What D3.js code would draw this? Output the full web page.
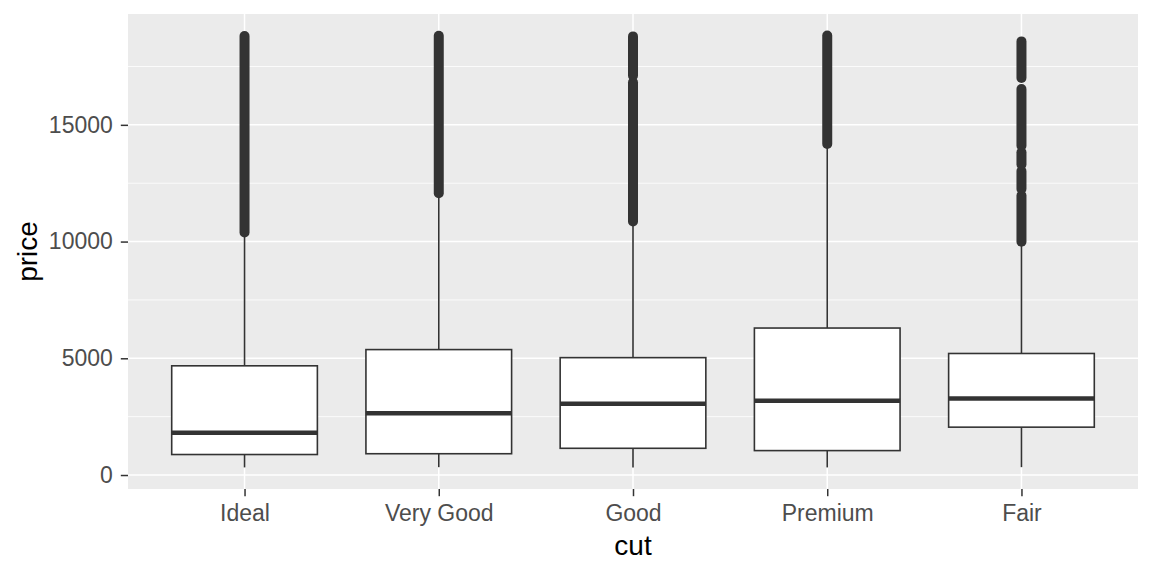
<!DOCTYPE html>
<html>
<head>
<meta charset="utf-8">
<script src="https://cdn.jsdelivr.net/npm/d3@7"></script>
<style>
  body { margin: 0; background: #fff; }
  svg { display: block; font-family: "Liberation Sans", Arial, sans-serif; }
</style>
</head>
<body>
<script>
// diamonds: price by cut, ordered by median
var cuts = ["Ideal", "Very Good", "Good", "Premium", "Fair"];
var q1 = [878, 912, 1145, 1046, 2050];
var medians = [1810, 2648, 3050, 3185, 3282];
var q3 = [4678, 5373, 5028, 6296, 5206];
var whiskerLow = [326, 336, 327, 326, 337];
var whiskerHigh = [10370, 12050, 10840, 14150, 9930];
// outliers sit so close together they read as stacks; each pair is [lowest, highest] of a stack
var outlierStacks = [
    [[10390, 18806]],
    [[12070, 18818]],
    [[10860, 16823], [17103, 18788]],
    [[14180, 18823]],
    [[9990, 11970], [12250, 13024], [13304, 13825], [14105, 16530], [17010, 18574]]
];
var yTicks = [0, 5000, 10000, 15000];
var yMinor = [2500, 7500, 12500, 17500];

var width = 1152, height = 576;
var panel = {left: 128, right: 1138, top: 14, bottom: 489};

var svg = d3.select('body').append('svg')
    .attr('width', width)
    .attr('height', height);

var x = d3.scalePoint()
    .domain(cuts)
    .range([panel.left, panel.right])
    .padding(0.6);

var y = d3.scaleLinear()
    .domain([-598.85, 19747.85])
    .range([panel.bottom, panel.top]);

var boxW = x.step() * 0.75;
var ink = '#333333';

svg.append('rect')
    .attr('x', panel.left)
    .attr('y', panel.top)
    .attr('width', panel.right - panel.left)
    .attr('height', panel.bottom - panel.top)
    .attr('fill', '#EBEBEB');

svg.selectAll('line.minor').data(yMinor).enter().append('line')
    .attr('class', 'minor')
    .attr('x1', panel.left).attr('x2', panel.right)
    .attr('y1', function(d){ return y(d); })
    .attr('y2', function(d){ return y(d); })
    .style('stroke', '#fff').style('stroke-width', 0.8);

svg.selectAll('line.major').data(yTicks).enter().append('line')
    .attr('class', 'major')
    .attr('x1', panel.left).attr('x2', panel.right)
    .attr('y1', function(d){ return y(d); })
    .attr('y2', function(d){ return y(d); })
    .style('stroke', '#fff').style('stroke-width', 1.5);

svg.selectAll('line.vmajor').data(cuts).enter().append('line')
    .attr('class', 'vmajor')
    .attr('y1', panel.top).attr('y2', panel.bottom)
    .attr('x1', function(d){ return x(d); })
    .attr('x2', function(d){ return x(d); })
    .style('stroke', '#fff').style('stroke-width', 1.5);

var groups = svg.selectAll('g.box').data(cuts).enter().append('g')
    .attr('class', 'box');

// whiskers
groups.append('line')
    .attr('x1', function(d){ return x(d); })
    .attr('x2', function(d){ return x(d); })
    .attr('y1', function(d, i){ return y(q3[i]); })
    .attr('y2', function(d, i){ return y(whiskerHigh[i]); })
    .style('stroke', ink).style('stroke-width', 1.6);
groups.append('line')
    .attr('x1', function(d){ return x(d); })
    .attr('x2', function(d){ return x(d); })
    .attr('y1', function(d, i){ return y(q1[i]); })
    .attr('y2', function(d, i){ return y(whiskerLow[i]); })
    .style('stroke', ink).style('stroke-width', 1.6);

groups.append('rect')
    .attr('x', function(d){ return x(d) - boxW / 2; })
    .attr('width', boxW)
    .attr('y', function(d, i){ return y(q3[i]); })
    .attr('height', function(d, i){ return y(q1[i]) - y(q3[i]); })
    .style('fill', '#fff').style('stroke', ink).style('stroke-width', 1.6);

groups.append('line')
    .attr('x1', function(d){ return x(d) - boxW / 2; })
    .attr('x2', function(d){ return x(d) + boxW / 2; })
    .attr('y1', function(d, i){ return y(medians[i]); })
    .attr('y2', function(d, i){ return y(medians[i]); })
    .style('stroke', ink).style('stroke-width', 4.5);

// outlier stacks, drawn as round-capped strokes the width of one point
groups.each(function(d, i){
    d3.select(this).selectAll('line.out').data(outlierStacks[i]).enter().append('line')
        .attr('class', 'out')
        .attr('x1', x(d)).attr('x2', x(d))
        .attr('y1', function(s){ return y(s[0]); })
        .attr('y2', function(s){ return y(s[1]); })
        .style('stroke', ink)
        .style('stroke-width', 10)
        .style('stroke-linecap', 'round');
});

// axes
var yAxis = svg.append('g')
    .attr('transform', 'translate(' + panel.left + ',0)')
    .call(d3.axisLeft(y).tickValues(yTicks).tickSize(7.2).tickPadding(8).tickFormat(d3.format('d')));
var xAxis = svg.append('g')
    .attr('transform', 'translate(0,' + panel.bottom + ')')
    .call(d3.axisBottom(x).tickSize(7.2).tickPadding(8.5));

[yAxis, xAxis].forEach(function(ax){
    ax.select('.domain').remove();
    ax.selectAll('.tick line').style('stroke', ink).style('stroke-width', 1.5);
    ax.selectAll('.tick text')
        .style('fill', '#4D4D4D')
        .style('font-size', '23px')
        .style('font-family', '"Liberation Sans", Arial, sans-serif');
});

svg.append('text')
    .attr('x', (panel.left + panel.right) / 2)
    .attr('y', 555)
    .attr('text-anchor', 'middle')
    .style('font-size', '28px')
    .style('fill', '#000')
    .text('cut');

svg.append('text')
    .attr('transform', 'translate(37,' + (panel.top + panel.bottom) / 2 + ') rotate(-90)')
    .attr('text-anchor', 'middle')
    .style('font-size', '28px')
    .style('fill', '#000')
    .text('price');
</script>
</body>
</html>
